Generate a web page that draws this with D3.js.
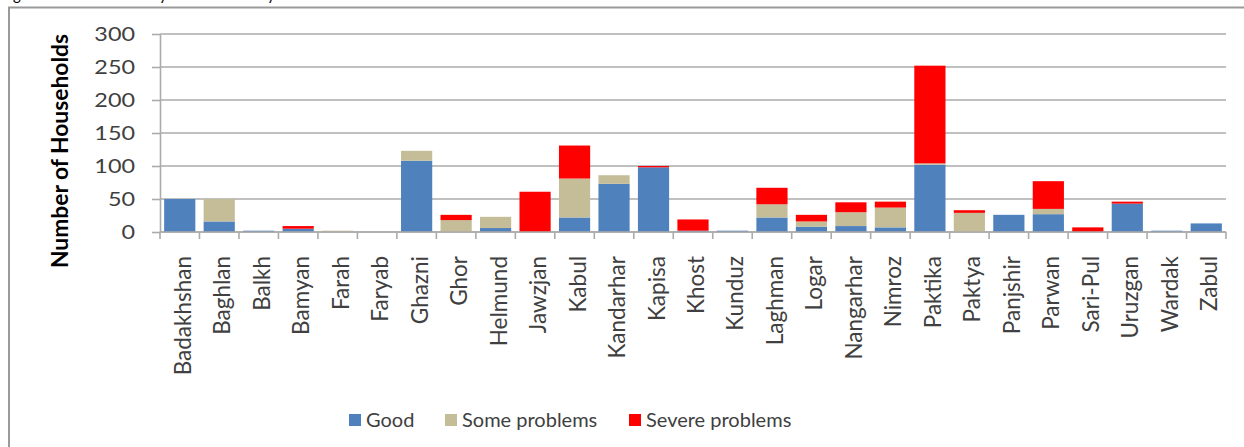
<!DOCTYPE html>
<html>
<head>
<meta charset="utf-8">
<script src="https://cdn.jsdelivr.net/npm/d3@7"></script>
<style>
  html, body { margin: 0; padding: 0; background: #fff; }
  svg { display: block; }
  text { font-family: Lato, "Open Sans", "Liberation Sans", sans-serif; }
</style>
</head>
<body>
<svg id="chart" width="1244" height="447"></svg>
<script>
// Provinces and household counts per water condition
const provinces = ["Badakhshan","Baghlan","Balkh","Bamyan","Farah","Faryab","Ghazni","Ghor","Helmund","Jawzjan","Kabul","Kandarhar","Kapisa","Khost","Kunduz","Laghman","Logar","Nangarhar","Nimroz","Paktika","Paktya","Panjshir","Parwan","Sari-Pul","Uruzgan","Wardak","Zabul"];
const good           = [50, 16, 2, 5, 0, 0, 108, 0, 6, 0, 22, 73, 98, 2, 2, 22, 8, 9, 7, 102, 0, 26, 27, 0, 43, 2, 13];
const someProblems   = [0, 34, 0, 0, 2, 0, 15, 18, 17, 0, 59, 13, 0, 0, 0, 20, 8, 21, 30, 2, 29, 0, 8, 0, 0, 0, 0];
const severeProblems = [0, 0, 0, 4, 0, 0, 0, 8, 0, 61, 50, 0, 2, 17, 0, 25, 10, 15, 9, 148, 4, 0, 42, 7, 3, 0, 0];
const seriesNames = ["Good", "Some problems", "Severe problems"];
const seriesColors = ["#4F81BD", "#C4BD97", "#FF0000"];
const yTicks = [0, 50, 100, 150, 200, 250, 300];

const rows = provinces.map((p, i) => ({
  province: p,
  "Good": good[i],
  "Some problems": someProblems[i],
  "Severe problems": severeProblems[i]
}));

const svg = d3.select("#chart");
const plot = { left: 160, right: 1226, top: 34, bottom: 232 };
const gridColor = "#ababab";

// Outer frame (runs past the right and bottom edges)
svg.append("rect")
  .attr("x", 9).attr("y", 7.5)
  .attr("width", 1260).attr("height", 460)
  .attr("fill", "#fff")
  .attr("stroke", "#9a9a9a").attr("stroke-width", 2);

// Caption line above the frame, mostly cut off
const cap = svg.append("g").attr("fill", "#000").attr("font-size", 15);
cap.append("text").attr("x", 1).attr("y", -0.5).text("Figure");
cap.append("text").attr("x", 151).attr("y", -0.5).text("by");
cap.append("text").attr("x", 259).attr("y", -0.5).text("by");

const x = d3.scaleBand()
  .domain(provinces)
  .range([plot.left, plot.right])
  .paddingInner(0.21)
  .paddingOuter(0.105);

const y = d3.scaleLinear()
  .domain([0, 300])
  .range([plot.bottom, plot.top]);

// Horizontal gridlines
svg.append("g").selectAll("line")
  .data(yTicks)
  .join("line")
  .attr("x1", plot.left).attr("x2", plot.right)
  .attr("y1", d => y(d)).attr("y2", d => y(d))
  .attr("stroke", gridColor).attr("stroke-width", 1.6);

// Value axis: short outer ticks and wide numerals
const labelStretch = 1.2;
const gy = svg.append("g")
  .attr("transform", `translate(${plot.left},0)`)
  .call(d3.axisLeft(y).tickValues(yTicks).tickSizeInner(8).tickSizeOuter(0));
gy.select(".domain").attr("stroke", gridColor).attr("stroke-width", 1.6);
gy.selectAll(".tick line").attr("stroke", gridColor).attr("stroke-width", 1.6);
gy.selectAll(".tick text")
  .attr("fill", "#404040")
  .attr("font-size", 19.5)
  .attr("x", -25 / labelStretch)
  .attr("transform", `scale(${labelStretch},1)`);

// Stacked bars
const layers = d3.stack().keys(seriesNames)(rows);
svg.append("g").selectAll("g")
  .data(layers)
  .join("g")
  .attr("fill", (d, i) => seriesColors[i])
  .selectAll("rect")
  .data(d => d.filter(s => s[1] - s[0] > 0))
  .join("rect")
  .attr("x", d => x(d.data.province))
  .attr("width", x.bandwidth())
  .attr("y", d => y(d[1]))
  .attr("height", d => y(d[0]) - y(d[1]));

// Category axis: ticks at category boundaries
const step = x.step();
const boundaries = d3.range(provinces.length + 1).map(i => plot.left + i * step);
const gx = svg.append("g");
gx.append("line")
  .attr("x1", plot.left).attr("x2", plot.right)
  .attr("y1", plot.bottom).attr("y2", plot.bottom)
  .attr("stroke", gridColor).attr("stroke-width", 1.6);
gx.selectAll("line.tk")
  .data(boundaries)
  .join("line")
  .attr("class", "tk")
  .attr("x1", d => d).attr("x2", d => d)
  .attr("y1", plot.bottom).attr("y2", plot.bottom + 7)
  .attr("stroke", gridColor).attr("stroke-width", 1.6);
gx.selectAll("text")
  .data(provinces)
  .join("text")
  .attr("transform", d => `translate(${x(d) + x.bandwidth() / 2 + 11},${plot.bottom + 24}) rotate(-90)`)
  .attr("text-anchor", "end")
  .attr("fill", "#404040")
  .attr("font-size", 22.5)
  .text(d => d);

// Value axis title
svg.append("text")
  .attr("transform", `translate(68,151) rotate(-90)`)
  .attr("text-anchor", "middle")
  .attr("font-size", 22.8)
  .attr("font-weight", "bold")
  .attr("fill", "#000")
  .text("Number of Households");

// Legend
const legendX = [349, 445, 629];
const lg = svg.append("g").selectAll("g")
  .data(seriesNames)
  .join("g")
  .attr("transform", (d, i) => `translate(${legendX[i]},420)`);
lg.append("rect")
  .attr("x", 0).attr("y", -6)
  .attr("width", 12).attr("height", 12)
  .attr("fill", (d, i) => seriesColors[i]);
lg.append("text")
  .attr("x", 17).attr("y", 0)
  .attr("dy", "0.35em")
  .attr("font-size", 20)
  .attr("fill", "#404040")
  .text(d => d);
</script>
</body>
</html>
